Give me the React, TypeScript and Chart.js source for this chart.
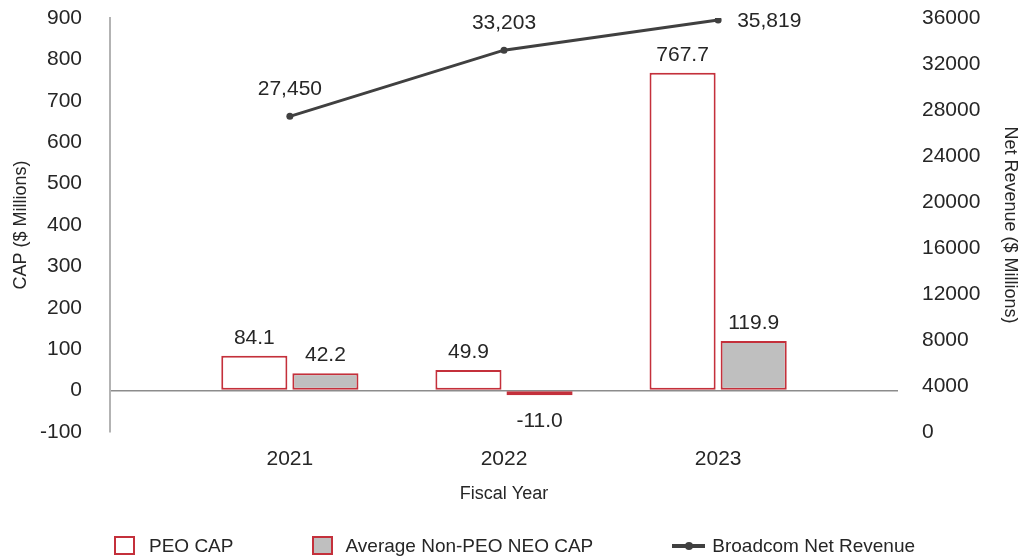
import React, { useEffect, useRef } from "react";
import { Chart, registerables } from "chart.js";

Chart.register(...registerables);

// ---- data ----
const categories = ["2021", "2022", "2023"];
const peoCap = [84.1, 49.9, 767.7];
const nonPeoCap = [42.2, -11.0, 119.9];
const netRevenue = [27450, 33203, 35819];
const seriesNames = ["PEO CAP", "Average Non-PEO NEO CAP", "Broadcom Net Revenue"];
const capAxis = [-100, 900, 100]; // min, max, step
const revenueAxis = [0, 36000, 4000]; // min, max, step

// ---- style ----
const FONT = "'Liberation Sans', Arial, Helvetica, sans-serif";
const TEXT = "#262626";
const RED = "#c4303b";
const GRAY_FILL = "#bfbfbf";
const LINE = "#404040";
const EDGE = 0.84; // category-width margin at both ends of the x range

const xs = categories.map((_, i) => i + 1);
const toXY = (vals: number[]) => vals.map((v, i) => ({ x: xs[i], y: v }));
const fmtThousands = (v: number) =>
  String(Math.round(v)).replace(/\B(?=(\d{3})+(?!\d))/g, ",");

const valueLabels = {
  id: "valueLabels",
  afterDatasetsDraw(chart: any) {
    const ctx = chart.ctx;
    ctx.save();
    ctx.font = `21px ${FONT}`;
    ctx.fillStyle = TEXT;
    chart.data.datasets.forEach((ds: any, di: number) => {
      const meta = chart.getDatasetMeta(di);
      const n = meta.data.length;
      meta.data.forEach((el: any, i: number) => {
        const v = ds.data[i].y as number;
        if (meta.type === "bar") {
          ctx.textAlign = "center";
          ctx.textBaseline = "alphabetic";
          const t = v.toFixed(1);
          if (v >= 0) ctx.fillText(t, el.x, el.y - 12);
          else ctx.fillText(t, el.x, el.y + 32);
        } else {
          const t = fmtThousands(v);
          if (i === n - 1) {
            ctx.textAlign = "left";
            ctx.textBaseline = "middle";
            ctx.fillText(t, el.x + 19, el.y + 1);
          } else {
            ctx.textAlign = "center";
            ctx.textBaseline = "alphabetic";
            ctx.fillText(t, el.x, el.y - 21);
          }
        }
      });
    });
    ctx.restore();
  },
};

const fixVertical = (w: number) => (s: any) => {
  s.width = w;
  s.paddingTop = 0;
  s.paddingBottom = 0;
};

function ChartCanvas() {
  const ref = useRef<HTMLCanvasElement | null>(null);
  useEffect(() => {
    if (!ref.current) return;
    const tickFont = { family: FONT, size: 21 };
    const titleFont = { family: FONT, size: 18 };
    const chart = new Chart(ref.current, {
      type: "bar",
      data: {
        datasets: [
          {
            label: seriesNames[0],
            data: toXY(peoCap),
            backgroundColor: "#ffffff",
            borderColor: RED,
            borderWidth: 2,
            borderSkipped: false,
            yAxisID: "y",
            order: 1,
            barPercentage: 0.93,
            categoryPercentage: 0.664,
          } as any,
          {
            label: seriesNames[1],
            data: toXY(nonPeoCap),
            backgroundColor: GRAY_FILL,
            borderColor: RED,
            borderWidth: 2,
            borderSkipped: false,
            yAxisID: "y",
            order: 1,
            barPercentage: 0.93,
            categoryPercentage: 0.664,
          } as any,
          {
            type: "line",
            label: seriesNames[2],
            data: toXY(netRevenue),
            yAxisID: "y1",
            borderColor: LINE,
            backgroundColor: LINE,
            borderWidth: 3,
            pointRadius: 3.5,
            pointBorderWidth: 0,
            pointBackgroundColor: LINE,
            tension: 0,
            order: 0,
          } as any,
        ],
      },
      options: {
        animation: false,
        responsive: false,
        devicePixelRatio: 1,
        layout: { padding: { top: 18, bottom: 47, left: 0, right: 0 } },
        plugins: {
          legend: { display: false },
          tooltip: { enabled: false },
        },
        scales: {
          x: {
            type: "linear",
            offset: false,
            min: 1 - EDGE,
            max: categories.length + EDGE,
            grid: { display: false, drawTicks: false },
            border: { display: false },
            afterBuildTicks: (s: any) => {
              s.ticks = xs.map((v) => ({ value: v }));
            },
            afterFit: (s: any) => {
              s.height = 80;
              s.paddingLeft = 0;
              s.paddingRight = 0;
            },
            ticks: {
              font: tickFont,
              color: TEXT,
              padding: 15,
              autoSkip: false,
              maxRotation: 0,
              callback: (v: any) => categories[Number(v) - 1] ?? "",
            },
            title: {
              display: true,
              text: "Fiscal Year",
              font: titleFont,
              color: TEXT,
              padding: { top: 0, bottom: 7 },
            },
          },
          y: {
            position: "left",
            min: capAxis[0],
            max: capAxis[1],
            afterFit: fixVertical(110),
            ticks: {
              stepSize: capAxis[2],
              font: tickFont,
              color: TEXT,
              padding: 28,
              callback: (v: any) => String(v),
            },
            grid: {
              display: true,
              drawTicks: false,
              drawOnChartArea: true,
              lineWidth: 1.5,
              color: (c: any) =>
                c.tick && c.tick.value === 0 ? "#8c8c8c" : "rgba(0,0,0,0)",
            },
            border: { display: true, color: "#b3b3b3", width: 2 },
            title: {
              display: true,
              text: "CAP ($ Millions)",
              font: titleFont,
              color: TEXT,
              padding: { top: 10, bottom: 0 },
            },
          },
          y1: {
            position: "right",
            min: revenueAxis[0],
            max: revenueAxis[1],
            afterFit: fixVertical(120),
            ticks: {
              stepSize: revenueAxis[2],
              font: tickFont,
              color: TEXT,
              padding: 24,
              callback: (v: any) => String(v),
            },
            grid: { display: false, drawTicks: false },
            border: { display: false },
            title: {
              display: true,
              text: "Net Revenue ($ Millions)",
              font: titleFont,
              color: TEXT,
              padding: { top: -3, bottom: 0 },
            },
          },
        },
      } as any,
      plugins: [valueLabels],
    });
    return () => chart.destroy();
  }, []);
  return <canvas ref={ref} width={1018} height={559} style={{ display: "block" }} />;
}

function Legend() {
  const text: React.CSSProperties = { whiteSpace: "nowrap", lineHeight: "19px" };
  const box = (bg: string): React.CSSProperties => ({
    width: 21,
    height: 19,
    boxSizing: "border-box",
    border: `2px solid ${RED}`,
    background: bg,
    flex: "none",
  });
  return (
    <div
      style={{
        position: "absolute",
        left: 114,
        top: 536,
        height: 19,
        display: "flex",
        alignItems: "center",
        fontFamily: FONT,
        fontSize: 19,
        color: TEXT,
      }}
    >
      <div style={box("#ffffff")} />
      <span style={{ ...text, marginLeft: 14 }}>{seriesNames[0]}</span>
      <div style={{ ...box(GRAY_FILL), marginLeft: 79 }} />
      <span style={{ ...text, marginLeft: 12 }}>{seriesNames[1]}</span>
      <div style={{ position: "relative", width: 33, height: 19, marginLeft: 79, flex: "none" }}>
        <div
          style={{
            position: "absolute",
            left: 0,
            right: 0,
            top: 8,
            height: 3.5,
            background: LINE,
          }}
        />
        <div
          style={{
            position: "absolute",
            left: 12.5,
            top: 6,
            width: 8,
            height: 8,
            borderRadius: 4,
            background: LINE,
          }}
        />
      </div>
      <span style={{ ...text, marginLeft: 7 }}>{seriesNames[2]}</span>
    </div>
  );
}

export default function App() {
  return (
    <div
      style={{
        position: "fixed",
        left: 0,
        top: 0,
        width: 1018,
        height: 559,
        background: "#ffffff",
        overflow: "hidden",
      }}
    >
      <ChartCanvas />
      <Legend />
    </div>
  );
}
